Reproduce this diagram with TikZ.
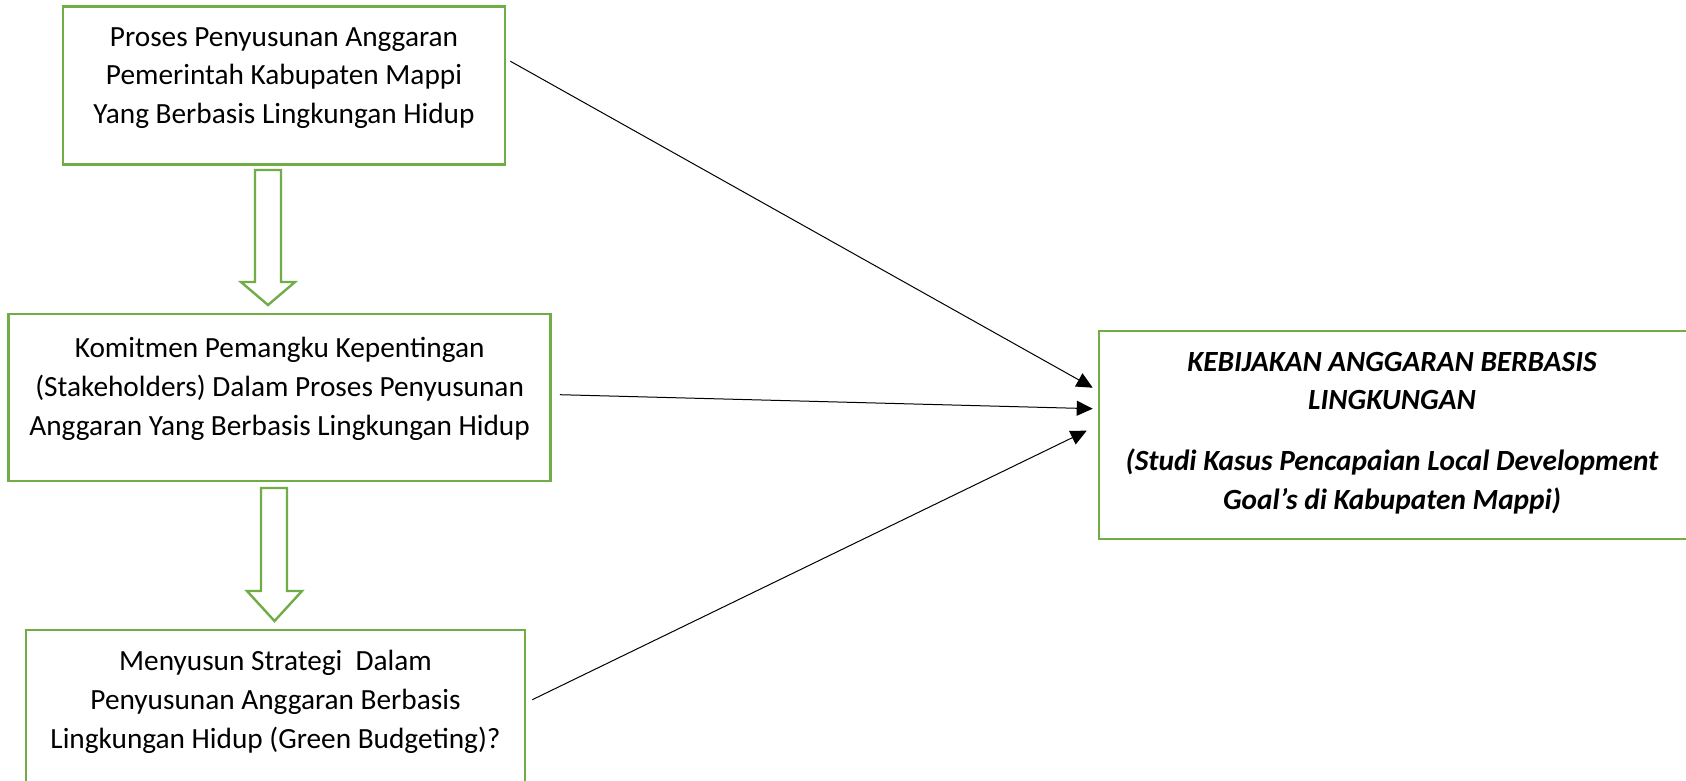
\documentclass[tikz,border=0pt]{standalone}
\usepackage{fontspec}
\setmainfont{Carlito}
\usetikzlibrary{arrows.meta,calc}
\definecolor{boxgreen}{RGB}{112,173,71}
\begin{document}
\begin{tikzpicture}[x=1pt,y=-1pt,
  greenbox/.style={draw=boxgreen,line width=2.6pt,fill=none,inner sep=0pt},
  boxtext/.style={align=center,inner sep=0pt,font=\fontsize{29.3}{38.7}\selectfont},
  hollow/.style={draw=boxgreen,line width=2.4pt,line join=miter,fill=white},
  link/.style={draw=black,line width=1pt,-{Triangle[length=16pt,width=15pt]}}]
\useasboundingbox (0,0) rectangle (1686,781);
\clip (0,0) rectangle (1686,781);
\fill[white] (0,0) rectangle (1686,781);
% boxes
\node[greenbox,minimum width=442pt,minimum height=158pt] (b1) at (284,85.5) {};
\node[greenbox,minimum width=542pt,minimum height=167pt] (b2) at (279.6,397.5) {};
\node[greenbox,minimum width=499pt,minimum height=190pt] (b3) at (275.5,725) {};
\node[greenbox,minimum width=620pt,minimum height=208pt] (b4) at (1409,435) {};
% texts
\node[boxtext] (t1) at (284,78) {Proses Penyusunan Anggaran\\Pemerintah Kabupaten Mappi\\Yang Berbasis Lingkungan Hidup};
\node[boxtext] (t2) at (279.6,389) {Komitmen Pemangku Kepentingan\\(Stakeholders) Dalam Proses Penyusunan\\Anggaran Yang Berbasis Lingkungan Hidup};
\node[boxtext] (t3) at (275.5,702) {Menyusun Strategi\ \ Dalam\\Penyusunan Anggaran Berbasis\\Lingkungan Hidup (Green Budgeting)?};
\node[boxtext,font=\fontsize{29.3}{38.7}\selectfont\bfseries\itshape] (t4) at (1392,433) {KEBIJAKAN ANGGARAN BERBASIS\\LINGKUNGAN\\[22pt](Studi Kasus Pencapaian Local Development\\Goal’s di Kabupaten Mappi)};
% hollow block arrows
\draw[hollow] (255,170) -- (281,170) -- (281,282) -- (295,282) -- (268,305) -- (241,282) -- (255,282) -- cycle;
\draw[hollow] (261,488) -- (287,488) -- (287,591) -- (302,591) -- (274.5,621) -- (247,591) -- (261,591) -- cycle;
% connectors
\coordinate (s1) at ($(b1.north east)+(4,56)$);
\coordinate (s2) at ($(b2.north east)+(8,82)$);
\coordinate (s3) at ($(b3.north east)+(6,71)$);
\coordinate (e1) at ($(b4.north west)+(-5,58)$);
\coordinate (e2) at ($(b4.north west)+(-5,79)$);
\coordinate (e3) at ($(b4.north west)+(-11,101)$);
\draw[link] (s1) -- (e1);
\draw[link] (s2) -- (e2);
\draw[link] (s3) -- (e3);
\end{tikzpicture}
\end{document}
